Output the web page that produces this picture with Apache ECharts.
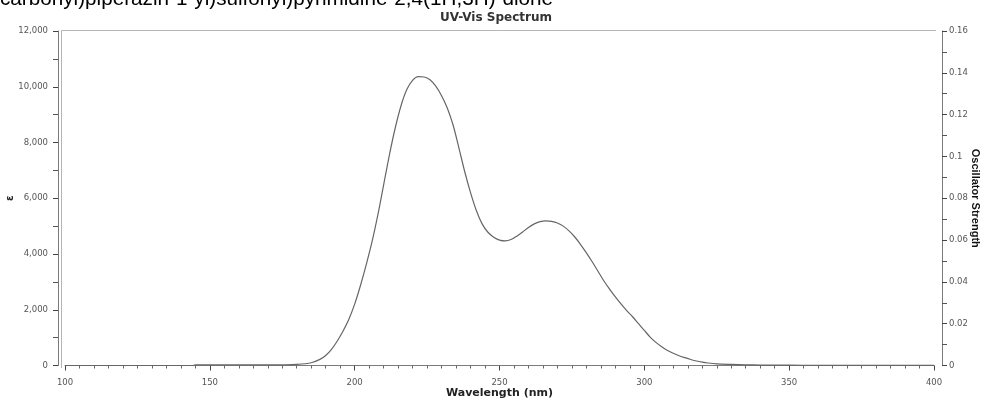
<!DOCTYPE html>
<html>
<head>
<meta charset="utf-8">
<script src="https://cdn.jsdelivr.net/npm/echarts@6/dist/echarts.min.js"></script>
<style>
  html, body { margin: 0; padding: 0; background: #fff; }
  #chart { width: 984px; height: 401px; }
</style>
</head>
<body>
<div id="chart"></div>
<script>
// Calculated UV-Vis absorption spectrum (molar absorptivity vs wavelength)
const wavelengths = [
  100, 110, 120, 130, 140, 144, 145, 150, 160, 170, 175, 180, 185, 188, 190, 192, 194, 196, 198,
  200, 202, 204, 206, 208, 210, 212, 214, 216, 218, 220, 222, 224, 226, 228, 230,
  232, 234, 236, 238, 240, 242, 244, 246, 248, 250, 252, 254, 256, 258, 260,
  262, 264, 266, 268, 270, 272, 274, 276, 278, 280, 282, 284, 286, 288, 290,
  292, 294, 296, 298, 300, 302, 304, 306, 308, 310, 312, 314, 316, 318, 320,
  322, 325, 330, 335, 340, 350, 360, 380, 400
];
const epsilon = [
  0, 0, 0, 0, 0, 0, 20, 20, 20, 20, 25, 40, 100, 220, 360, 580, 880, 1240, 1660,
  2200, 2870, 3620, 4440, 5400, 6480, 7560, 8520, 9320, 9900, 10230, 10360, 10350, 10250, 10020, 9680,
  9230, 8620, 7800, 6950, 6200, 5560, 5080, 4780, 4600, 4500, 4470, 4520, 4640, 4790, 4950,
  5080, 5160, 5190, 5170, 5110, 5000, 4830, 4610, 4340, 4040, 3720, 3380, 3040, 2740, 2460,
  2200, 1960, 1740, 1500, 1260, 1020, 830, 670, 540, 440, 350, 280, 215, 160, 120,
  90, 60, 40, 25, 15, 10, 8, 6, 5
];

const titleText = 'UV-Vis Spectrum';
const headerText = 'carbonyl)piperazin-1-yl)sulfonyl)pyrimidine-2,4(1H,3H)-dione';
const xAxisName = 'Wavelength (nm)';
const leftAxisName = 'ε';
const rightAxisName = 'Oscillator Strength';

const spectrum = wavelengths.map((w, i) => [w, epsilon[i]]);

const chart = echarts.init(document.getElementById('chart'), null, { renderer: 'canvas' });

const tickFont = 'DejaVu Sans';
const axisGray = '#7a7a7a';
const labelGray = '#555';

chart.setOption({
  animation: false,
  backgroundColor: '#fff',
  title: {
    text: titleText,
    left: 491,
    top: 7,
    textAlign: 'center',
    textStyle: { fontFamily: tickFont, fontWeight: 'bold', fontSize: 12, color: '#333' }
  },
  grid: { left: 65, right: 50, top: 31, bottom: 35.5, containLabel: false, outerBoundsMode: 'none' },
  xAxis: {
    type: 'value',
    min: 100,
    max: 400,
    interval: 50,
    offset: 7,
    name: xAxisName,
    nameLocation: 'middle',
    nameGap: 15,
    nameMoveOverlap: false,
    nameTextStyle: { fontFamily: tickFont, fontWeight: 'bold', fontSize: 11, color: '#222' },
    axisLine: { show: true, lineStyle: { color: axisGray, width: 1 } },
    axisTick: { show: true, inside: false, length: 5, lineStyle: { color: '#444' } },
    minorTick: { show: true, splitNumber: 10, length: 3, lineStyle: { color: '#666' } },
    axisLabel: { fontFamily: tickFont, fontSize: 8.5, color: labelGray, margin: 6 },
    splitLine: { show: false }
  },
  yAxis: [
    {
      type: 'value',
      position: 'left',
      min: 0,
      max: 12000,
      interval: 2000,
      offset: 7,
      name: leftAxisName,
      nameLocation: 'middle',
      nameGap: 43,
      nameRotate: 90,
      nameMoveOverlap: false,
      nameTextStyle: { fontFamily: tickFont, fontWeight: 'bold', fontSize: 10, color: '#222' },
      axisLine: { show: true, lineStyle: { color: axisGray, width: 1 } },
      axisTick: { show: true, inside: false, length: 5, lineStyle: { color: '#444' } },
      minorTick: { show: true, splitNumber: 2, length: 5, lineStyle: { color: '#555' } },
      axisLabel: {
        fontFamily: tickFont, fontSize: 8.5, color: labelGray, margin: 10,
        formatter: v => v.toLocaleString('en-US')
      },
      splitLine: { show: false }
    },
    {
      type: 'value',
      position: 'right',
      min: 0,
      max: 0.16,
      interval: 0.02,
      offset: 8,
      name: rightAxisName,
      nameLocation: 'middle',
      nameGap: 28,
      nameRotate: -90,
      nameMoveOverlap: false,
      nameTextStyle: { fontFamily: 'Liberation Sans', fontWeight: 'bold', fontSize: 11, color: '#111' },
      axisLine: { show: true, lineStyle: { color: axisGray, width: 1 } },
      axisTick: { show: true, inside: false, length: 5, lineStyle: { color: '#444' } },
      minorTick: { show: true, splitNumber: 2, length: 5, lineStyle: { color: '#555' } },
      axisLabel: {
        fontFamily: tickFont, fontSize: 8.5, color: labelGray, margin: 7,
        formatter: v => String(Math.round(v * 100) / 100)
      },
      splitLine: { show: false }
    }
  ],
  graphic: [
    {
      type: 'text',
      left: 0,
      top: -11,
      style: { text: headerText, font: '20.7px "Liberation Sans", Arial, sans-serif', fill: '#000' }
    },
    {
      type: 'polyline',
      shape: { points: [[61.5, 368], [61.5, 30.5], [936, 30.5]] },
      style: { stroke: '#b5b5b5', lineWidth: 1, fill: null }
    }
  ],
  series: [
    {
      type: 'line',
      xAxisIndex: 0,
      yAxisIndex: 0,
      data: spectrum,
      smooth: 0.3,
      showSymbol: false,
      symbol: 'none',
      lineStyle: { color: '#666', width: 1.2 }
    }
  ]
});
</script>
</body>
</html>
